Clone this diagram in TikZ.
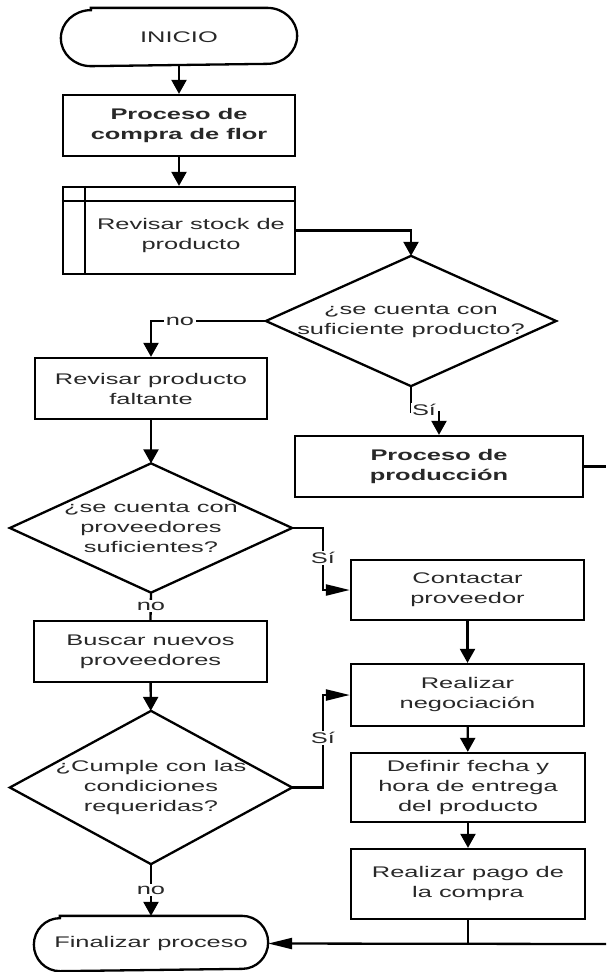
\documentclass[tikz,border=0pt]{standalone}
\usepackage{fontspec}
\setmainfont[FakeStretch=1.65]{Liberation Sans}
\usetikzlibrary{arrows.meta,calc}
\definecolor{textgray}{HTML}{282828}
\newcommand{\mystadium}[3]{\draw ($(#1.north west)+(#2,0)$) -- ($(#1.north east)+(-#2,0)$) arc[start angle=90,end angle=-90,x radius=#2,y radius=#3] -- ($(#1.south west)+(#2,0)$) arc[start angle=270,end angle=90,x radius=#2,y radius=#3] -- cycle;}
\newcommand{\mydiamond}[1]{\draw (#1.north) -- (#1.east) -- (#1.south) -- (#1.west) -- cycle;}
\begin{document}
\begin{tikzpicture}[x=1pt,y=1pt,line width=2.3pt,
  txt/.style={text=textgray,font=\fontsize{15.4}{20}\selectfont,align=center,inner sep=0pt},
  box/.style={txt,draw,rectangle,minimum width=232pt,minimum height=61pt},
  shp/.style={txt,rectangle,draw=none},
  lbl/.style={txt,fill=white,inner sep=1.5pt},
  varr/.style={-{Triangle[width=15pt,length=14pt]}},
  harr/.style={-{Triangle[width=11pt,length=24pt]}}]
\useasboundingbox (0,0) rectangle (606,-972);
% nodes
\node[shp,minimum width=234pt,minimum height=56pt] (ini) at (179,-37) {INICIO};
\mystadium{ini}{30}{28}
\node[box,font=\fontsize{15.4}{20}\selectfont\bfseries] (p1) at (179,-125.5) {Proceso de\\compra de flor};
\node[box,minimum height=87pt] (p2) at (179,-230.5) {};
\draw ($(p2.north west)+(23,0)$) -- ($(p2.south west)+(23,0)$);
\draw ($(p2.north west)+(0,-15)$) -- ($(p2.north east)+(0,-15)$);
\node[txt] (p2t) at (191,-235.5) {Revisar stock de\\producto};
\node[shp,minimum width=288pt,minimum height=128pt] (d1) at (411,-321) {¿se cuenta con\\suficiente producto?};
\mydiamond{d1}
\node[box] (p3) at (151,-388.5) {Revisar producto\\faltante};
\node[box,minimum width=288pt,font=\fontsize{15.4}{20}\selectfont\bfseries] (p4) at (439,-466.5) {Proceso de\\producción};
\node[shp,minimum width=280pt,minimum height=127pt] (d2) at (151,-528) {¿se cuenta con\\proveedores\\suficientes?};
\mydiamond{d2}
\node[box,minimum width=233pt,minimum height=60pt] (p5) at (467.5,-590) {Contactar\\proveedor};
\node[box,minimum width=233pt,minimum height=62pt] (p6) at (467.5,-695) {Realizar\\negociación};
\node[box,minimum width=234pt,minimum height=69pt] (p7) at (468,-787.5) {Definir fecha y\\hora de entrega\\del producto};
\node[box,minimum width=234pt,minimum height=70pt] (p8) at (468,-884) {Realizar pago de\\la compra};
\node[box,minimum width=233pt] (p9) at (150.5,-651.5) {Buscar nuevos\\proveedores};
\node[shp,minimum width=280pt,minimum height=151pt] (d3) at (151,-787.5) {¿Cumple con las\\condiciones\\requeridas?};
\mydiamond{d3}
\node[shp,minimum width=232pt,minimum height=53pt] (fin) at (151,-943.5) {Finalizar proceso};
\mystadium{fin}{26}{26.5}
\coordinate (e1) at (606,-466.5);
\coordinate (e2) at (606,-944);
% connectors
\draw[varr] (ini) -- (p1);
\draw[varr] (p1) -- (p2);
\draw[varr] (p2.east) -| (d1.north);
\draw[varr] (d1.west) -| (p3.north);
\node[lbl] (lno1) at (180,-321) {no};
\draw[varr] (d1.south) -- ++(0,-26) -| (p4.north);
\node[lbl] (lsi1) at (424,-410) {Sí};
\draw[varr] (p3) -- (d2);
\draw[harr] (d2.east) -- (323,-528) |- (p5.west);
\node[lbl] (lsi2) at (323,-558) {Sí};
\draw (d2.south) -- (p9.north);
\node[lbl] (lno2) at (151,-606) {no};
\draw[varr] (p9) -- (d3);
\draw[harr] (d3.east) -- (323,-787.5) |- (p6.west);
\node[lbl] (lsi3) at (323,-738) {Sí};
\draw[varr] (d3.south) -- (fin.north);
\node[lbl] (lno3) at (151,-890) {no};
\draw[varr] (p5) -- (p6);
\draw[varr] (p6) -- (p7);
\draw[varr] (p7) -- (p8);
\draw (p8.south) -- (p8.south |- e2);
\draw[harr] (e2) -- (fin.east);
\draw (p4.east) -- (e1);
\end{tikzpicture}
\end{document}
